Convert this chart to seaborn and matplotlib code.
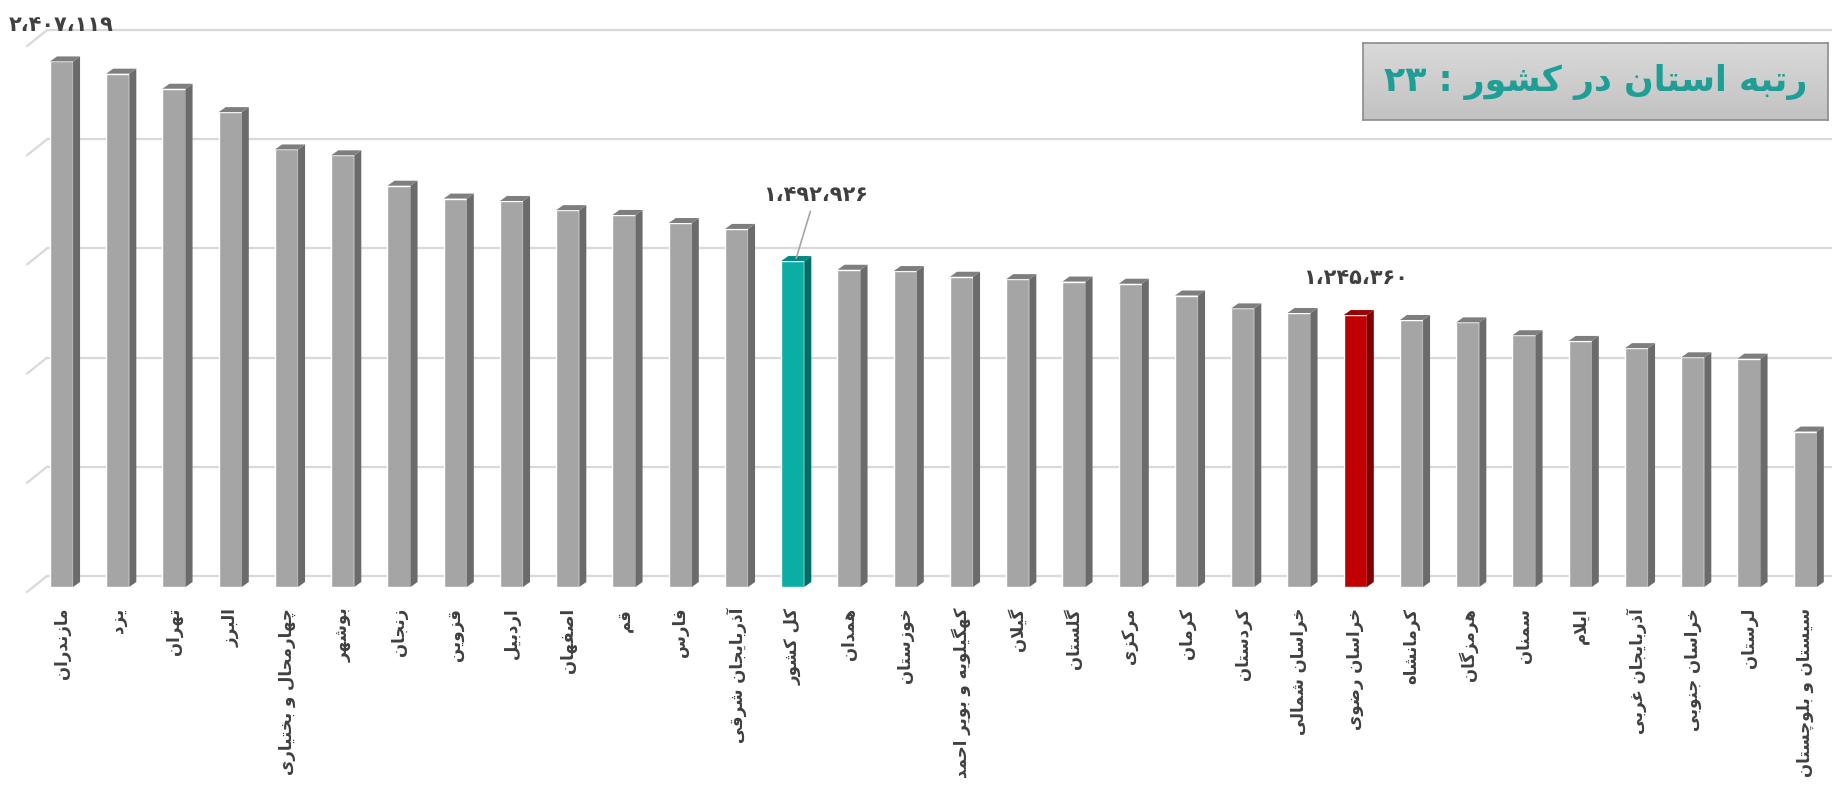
import matplotlib
matplotlib.use("Agg")
import matplotlib.pyplot as plt
import numpy as np
import pandas as pd
import seaborn as sns
from matplotlib.patches import Polygon
from matplotlib.lines import Line2D
from matplotlib.transforms import IdentityTransform

# Data
provinces = ['مازندران', 'یزد', 'تهران', 'البرز', 'چهارمحال و بختیاری', 'بوشهر', 'زنجان', 'قزوین',
             'اردبیل', 'اصفهان', 'قم', 'فارس', 'آذربایجان شرقی', 'کل کشور', 'همدان', 'خوزستان',
             'کهگیلویه و بویر احمد', 'گیلان', 'گلستان', 'مرکزی', 'کرمان', 'کردستان', 'خراسان شمالی',
             'خراسان رضوی', 'کرمانشاه', 'هرمزگان', 'سمنان', 'ایلام', 'آذربایجان غربی', 'خراسان جنوبی',
             'لرستان', 'سیستان و بلوچستان']
values = [2407119, 2351000, 2282000, 2175000, 2004000, 1977000, 1838000, 1779000,
          1768000, 1726000, 1704000, 1667000, 1640000, 1492926, 1453000, 1447000,
          1421000, 1410000, 1399000, 1389000, 1335000, 1276000, 1255000,
          1245360, 1223000, 1212000, 1153000, 1127000, 1094000, 1052000,
          1046000, 712000]
country_name = 'کل کشور'
province_name = 'خراسان رضوی'
rank_title = 'رتبه استان در کشور : ۲۳'
grid_values = [0, 500000, 1000000, 1500000, 2000000, 2500000]

# --- simple Persian shaping (matplotlib has no complex text layout) ---
FORMS = {  # isolated, final, initial, medial
    'ا': (0xFE8D, 0xFE8E), 'آ': (0xFE81, 0xFE82), 'د': (0xFEA9, 0xFEAA), 'ذ': (0xFEAB, 0xFEAC),
    'ر': (0xFEAD, 0xFEAE), 'ز': (0xFEAF, 0xFEB0), 'ژ': (0xFB8A, 0xFB8B), 'و': (0xFEED, 0xFEEE),
    'ب': (0xFE8F, 0xFE90, 0xFE91, 0xFE92), 'پ': (0xFB56, 0xFB57, 0xFB58, 0xFB59),
    'ت': (0xFE95, 0xFE96, 0xFE97, 0xFE98), 'ث': (0xFE99, 0xFE9A, 0xFE9B, 0xFE9C),
    'ج': (0xFE9D, 0xFE9E, 0xFE9F, 0xFEA0), 'چ': (0xFB7A, 0xFB7B, 0xFB7C, 0xFB7D),
    'ح': (0xFEA1, 0xFEA2, 0xFEA3, 0xFEA4), 'خ': (0xFEA5, 0xFEA6, 0xFEA7, 0xFEA8),
    'س': (0xFEB1, 0xFEB2, 0xFEB3, 0xFEB4), 'ش': (0xFEB5, 0xFEB6, 0xFEB7, 0xFEB8),
    'ص': (0xFEB9, 0xFEBA, 0xFEBB, 0xFEBC), 'ض': (0xFEBD, 0xFEBE, 0xFEBF, 0xFEC0),
    'ط': (0xFEC1, 0xFEC2, 0xFEC3, 0xFEC4), 'ظ': (0xFEC5, 0xFEC6, 0xFEC7, 0xFEC8),
    'ع': (0xFEC9, 0xFECA, 0xFECB, 0xFECC), 'غ': (0xFECD, 0xFECE, 0xFECF, 0xFED0),
    'ف': (0xFED1, 0xFED2, 0xFED3, 0xFED4), 'ق': (0xFED5, 0xFED6, 0xFED7, 0xFED8),
    'ک': (0xFB8E, 0xFB8F, 0xFB90, 0xFB91), 'گ': (0xFB92, 0xFB93, 0xFB94, 0xFB95),
    'ل': (0xFEDD, 0xFEDE, 0xFEDF, 0xFEE0), 'م': (0xFEE1, 0xFEE2, 0xFEE3, 0xFEE4),
    'ن': (0xFEE5, 0xFEE6, 0xFEE7, 0xFEE8), 'ه': (0xFEE9, 0xFEEA, 0xFEEB, 0xFEEC),
    'ی': (0xFBFC, 0xFBFD, 0xFBFE, 0xFBFF),
}
LAM_ALEF = {'ا': (0xFEFB, 0xFEFC), 'آ': (0xFEF5, 0xFEF6)}


def shape(text):
    out = []
    i = 0
    n = len(text)
    while i < n:
        ch = text[i]
        if ch not in FORMS:
            out.append(ch)
            i += 1
            continue
        prev = text[i - 1] if i > 0 else ''
        joins_prev = prev in FORMS and len(FORMS[prev]) == 4
        nxt = text[i + 1] if i + 1 < n else ''
        if ch == 'ل' and nxt in LAM_ALEF:
            out.append(chr(LAM_ALEF[nxt][1 if joins_prev else 0]))
            i += 2
            continue
        f = FORMS[ch]
        joins_next = len(f) == 4 and nxt in FORMS
        if joins_prev and joins_next:
            out.append(chr(f[3]))
        elif joins_prev:
            out.append(chr(f[1]))
        elif joins_next:
            out.append(chr(f[2]))
        else:
            out.append(chr(f[0]))
        i += 1
    # visual order: reverse, keeping digit runs left-to-right
    tokens = []
    for c in out:
        is_digit = '۰' <= c <= '۹'
        if tokens and tokens[-1][0] == is_digit and is_digit:
            tokens[-1][1].append(c)
        else:
            tokens.append((is_digit, [c]))
    return ''.join(''.join(t) for _, t in reversed(tokens))


def fa_number(v):
    s = f"{v:,}".replace(',', '،')
    return s.translate(str.maketrans('0123456789', '۰۱۲۳۴۵۶۷۸۹'))


df = pd.DataFrame({'province': provinces, 'value': values})
df['group'] = np.where(df['province'] == country_name, 'country',
                       np.where(df['province'] == province_name, 'province', 'other'))

front = {'other': '#a5a5a5', 'country': '#0aaea5', 'province': '#c00000'}
side = {'other': '#6b6b6b', 'country': '#006d67', 'province': '#7a0000'}
top = {'other': '#7e7e7e', 'country': '#008a82', 'province': '#9a0000'}

sns.set_theme(style='white')
plt.rcParams['font.family'] = ['DejaVu Sans']

W, H = 1832, 785
fig = plt.figure(figsize=(W / 100, H / 100), dpi=100)
ax = fig.add_axes([33.4 / W, (H - 587) / H, 1800 / W, 587 / H])
ax.patch.set_visible(False)

sns.barplot(data=df, x='province', y='value', hue='group', palette=front, dodge=False,
            width=0.41, saturation=1, legend=False, ax=ax, zorder=2)
ax.set_xlim(-0.5, 31.5)
ax.set_ylim(0, 587 * 4580)
sns.despine(ax=ax, left=True, bottom=True)
ax.set_yticks([])
ax.set_xlabel('')
ax.set_ylabel('')
ax.set_xticks(range(len(provinces)))
ax.set_xticklabels([shape(p) for p in provinces], rotation=90, va='top', ha='center',
                   fontsize=12, fontweight='heavy', color='#404040')
ax.tick_params(axis='x', length=0, pad=15)

# back-wall gridlines (3D look)
for v in grid_values:
    y = ax.transData.transform((0, v))[1]
    ax.add_line(Line2D([47, W], [y + 11, y + 11], color='#d9d9d9', lw=1.6,
                       transform=IdentityTransform(), clip_on=False, zorder=0.5))
    ax.add_line(Line2D([27, 47], [y - 5, y + 11], color='#d9d9d9', lw=1.6,
                       transform=IdentityTransform(), clip_on=False, zorder=0.5))

# side and top faces of each bar
dx, dy = 7, 5
group_of = dict(zip(df['province'], df['group']))
for i, p in enumerate(ax.patches[:len(provinces)]):
    (x0, y0), (x1, y1) = ax.transData.transform([(p.get_x(), 0), (p.get_x() + p.get_width(), p.get_height())])
    xc = p.get_x() + p.get_width() / 2
    g = group_of[provinces[int(round(xc))]]
    ax.add_patch(Polygon([(x1, y0), (x1 + dx, y0 + dy), (x1 + dx, y1 + dy), (x1, y1)],
                         closed=True, facecolor=side[g], edgecolor='none',
                         transform=IdentityTransform(), clip_on=False, zorder=2))
    ax.add_patch(Polygon([(x0, y1), (x0 + dx, y1 + dy), (x1 + dx, y1 + dy), (x1, y1)],
                         closed=True, facecolor=top[g], edgecolor='none',
                         transform=IdentityTransform(), clip_on=False, zorder=2))

# value labels
lbl = dict(ha='center', va='center', fontsize=15, fontweight='heavy', color='#404040',
           textcoords='offset pixels')
i_max = int(np.argmax(values))
ax.annotate(fa_number(values[i_max]), xy=(i_max, values[i_max]), xytext=(0, 36), **lbl)
i_c = provinces.index(country_name)
ax.annotate(fa_number(values[i_c]), xy=(i_c + 0.06, values[i_c] + 12000), xytext=(19, 63),
            arrowprops=dict(arrowstyle='-', color='#a6a6a6', lw=1.2, shrinkA=2, shrinkB=0), **lbl)
i_p = provinces.index(province_name)
ax.annotate(fa_number(values[i_p]), xy=(i_p, values[i_p]), xytext=(0, 37), **lbl)

# rank box
bax = fig.add_axes([1363 / W, 1 - 120 / H, 465 / W, 77 / H])
grad = np.linspace(0.85, 0.76, 50).reshape(-1, 1)
bax.imshow(grad, aspect='auto', cmap='gray', vmin=0, vmax=1, extent=(0, 1, 0, 1))
bax.set_xticks([])
bax.set_yticks([])
for s in bax.spines.values():
    s.set_color('#8c8c8c')
    s.set_linewidth(1.2)
bax.text(0.5, 0.5, shape(rank_title), ha='center', va='center', fontsize=25,
         fontweight='heavy', color='#1f9e96', transform=bax.transAxes)

fig.savefig('out.png', dpi=100)
